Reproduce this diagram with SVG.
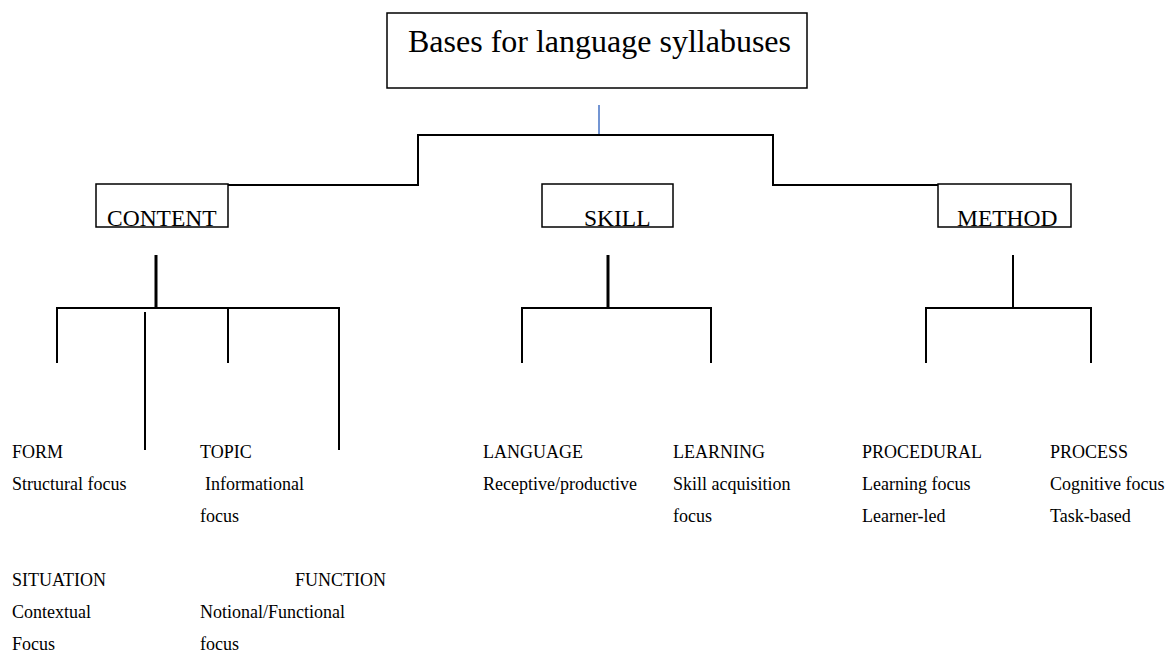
<svg xmlns="http://www.w3.org/2000/svg" width="1169" height="654" viewBox="0 0 1169 654">
<style>
.title{font-size:32px}
.head{font-size:23.5px}
.lbl{font-size:18px}
.box{fill:#fff;stroke:#000;stroke-width:1.5}
.ln{fill:none;stroke:#000;stroke-width:2}
.thick{fill:none;stroke:#000;stroke-width:3}
</style>
<rect width="1169" height="654" fill="#fff"/>
<g id="connectors">
<line x1="599" y1="105" x2="599" y2="135" stroke="#4472C4" stroke-width="1.5"/>
<polyline class="ln" points="228,185 418,185 418,135 773,135 773,185 938,185"/>
<line class="thick" x1="156" y1="255" x2="156" y2="308"/>
<polyline class="ln" points="57,363 57,308 339,308 339,450"/>
<line class="ln" x1="145" y1="312" x2="145" y2="450"/>
<line class="ln" x1="228" y1="308" x2="228" y2="363"/>
<line class="thick" x1="608" y1="255" x2="608" y2="308"/>
<polyline class="ln" points="522,363 522,308 711,308 711,363"/>
<line class="ln" x1="1013" y1="255" x2="1013" y2="308"/>
<polyline class="ln" points="926,363 926,308 1091,308 1091,363"/>
</g>
<g font-family="'Liberation Serif', 'Times New Roman', 'DejaVu Serif', serif" fill="#000">
<g id="root">
<rect class="box" x="387" y="13" width="420" height="75"/>
<text class="title" x="408" y="52">Bases for language syllabuses</text>
</g>
<g id="content">
<rect class="box" x="96" y="184" width="132" height="43"/>
<text class="head" x="107" y="226">CONTENT</text>
</g>
<g id="skill">
<rect class="box" x="542" y="184" width="131" height="43"/>
<text class="head" x="584" y="226">SKILL</text>
</g>
<g id="method">
<rect class="box" x="938" y="184" width="133" height="43"/>
<text class="head" x="957" y="226">METHOD</text>
</g>
<g id="form">
<text class="lbl" x="12" y="458">FORM</text>
<text class="lbl" x="12" y="490">Structural focus</text>
</g>
<g id="topic">
<text class="lbl" x="200" y="458">TOPIC</text>
<text class="lbl" x="205" y="490">Informational</text>
<text class="lbl" x="200" y="522">focus</text>
</g>
<g id="situation">
<text class="lbl" x="12" y="586">SITUATION</text>
<text class="lbl" x="12" y="618">Contextual</text>
<text class="lbl" x="12" y="650">Focus</text>
</g>
<g id="function">
<text class="lbl" x="295" y="586">FUNCTION</text>
<text class="lbl" x="200" y="618">Notional/Functional</text>
<text class="lbl" x="200" y="650">focus</text>
</g>
<g id="language">
<text class="lbl" x="483" y="458">LANGUAGE</text>
<text class="lbl" x="483" y="490">Receptive/productive</text>
</g>
<g id="learning">
<text class="lbl" x="673" y="458">LEARNING</text>
<text class="lbl" x="673" y="490">Skill acquisition</text>
<text class="lbl" x="673" y="522">focus</text>
</g>
<g id="procedural">
<text class="lbl" x="862" y="458">PROCEDURAL</text>
<text class="lbl" x="862" y="490">Learning focus</text>
<text class="lbl" x="862" y="522">Learner-led</text>
</g>
<g id="process">
<text class="lbl" x="1050" y="458">PROCESS</text>
<text class="lbl" x="1050" y="490">Cognitive focus</text>
<text class="lbl" x="1050" y="522">Task-based</text>
</g>
</g>
</svg>
